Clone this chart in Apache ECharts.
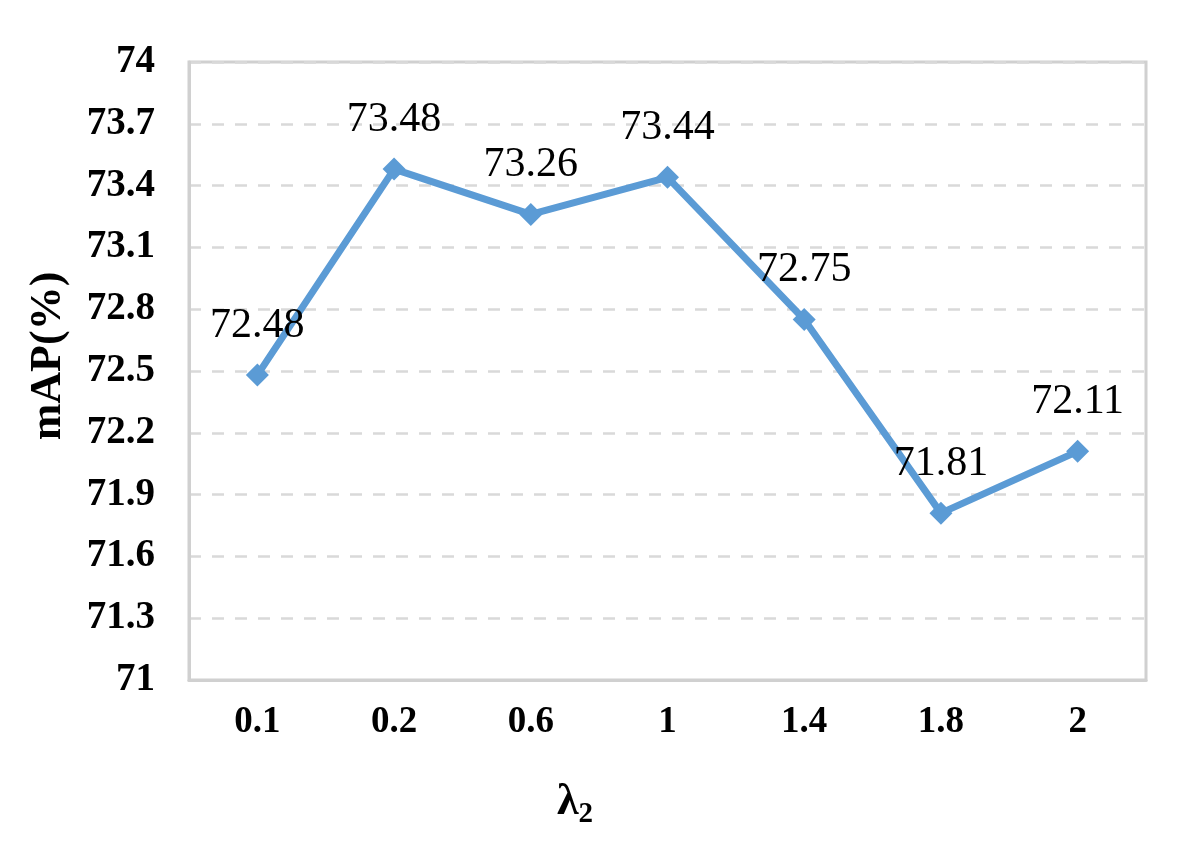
<!DOCTYPE html>
<html>
<head>
<meta charset="utf-8">
<script src="https://cdn.jsdelivr.net/npm/echarts@6/dist/echarts.min.js"></script>
<style>html,body{margin:0;padding:0;background:#fff}#c{width:1197px;height:850px}</style>
</head>
<body>
<div id="c"></div>
<script>
const categories = ['0.1', '0.2', '0.6', '1', '1.4', '1.8', '2'];
const mapValues = [72.48, 73.48, 73.26, 73.44, 72.75, 71.81, 72.11];
const yTicks = [71, 71.3, 71.6, 71.9, 72.2, 72.5, 72.8, 73.1, 73.4, 73.7, 74];

const FONT = "'Liberation Serif', 'Times New Roman', serif";
const chart = echarts.init(document.getElementById('c'), null, {renderer: 'canvas'});
chart.setOption({
  animation: false,
  backgroundColor: '#fff',
  grid: {
    left: 189, right: 51, top: 62, bottom: 170,
    show: true, borderColor: '#d0d0d0', borderWidth: 3, backgroundColor: 'transparent'
  },
  xAxis: {
    type: 'category',
    data: categories,
    boundaryGap: true,
    axisLine: {show: true, lineStyle: {color: '#d0d0d0', width: 3}},
    axisTick: {show: false},
    axisLabel: {margin: 24, color: '#000', fontFamily: FONT, fontWeight: 'bold', fontSize: 37},
    name: '{a|λ}{b|2}',
    nameLocation: 'middle',
    nameGap: 96,
    nameTextStyle: {
      padding: [0, 185, 0, 0],
      rich: {
        a: {fontFamily: FONT, fontWeight: 'bold', fontSize: 44, color: '#000'},
        b: {fontFamily: FONT, fontWeight: 'bold', fontSize: 29, color: '#000', padding: [24, 0, 0, 0]}
      }
    }
  },
  yAxis: {
    type: 'value',
    min: 71, max: 74,
    splitNumber: 10,
    axisLine: {show: true, lineStyle: {color: '#d0d0d0', width: 3}},
    axisTick: {show: false, customValues: yTicks},
    axisLabel: {
      customValues: yTicks,
      margin: 34, color: '#000', fontFamily: FONT, fontWeight: 'bold', fontSize: 39,
      formatter: v => String(+(+v).toFixed(1))
    },
    splitLine: {show: true, lineStyle: {color: '#d9d9d9', width: 2.5, type: [12, 11]}},
    name: 'mAP(%)',
    nameLocation: 'middle',
    nameGap: 118,
    nameRotate: 90,
    nameTextStyle: {fontFamily: FONT, fontWeight: 'bold', fontSize: 44, color: '#000', padding: [0, 0, 0, 30]}
  },
  series: [{
    type: 'line',
    data: mapValues,
    symbol: 'diamond',
    symbolSize: 23,
    showAllSymbol: true,
    lineStyle: {color: '#5B9BD5', width: 7},
    itemStyle: {color: '#5B9BD5'},
    label: {
      show: true, position: 'top', distance: 17,
      color: '#000', fontFamily: FONT, fontSize: 42,
      formatter: p => p.value.toFixed(2)
    }
  }]
});
</script>
</body>
</html>
